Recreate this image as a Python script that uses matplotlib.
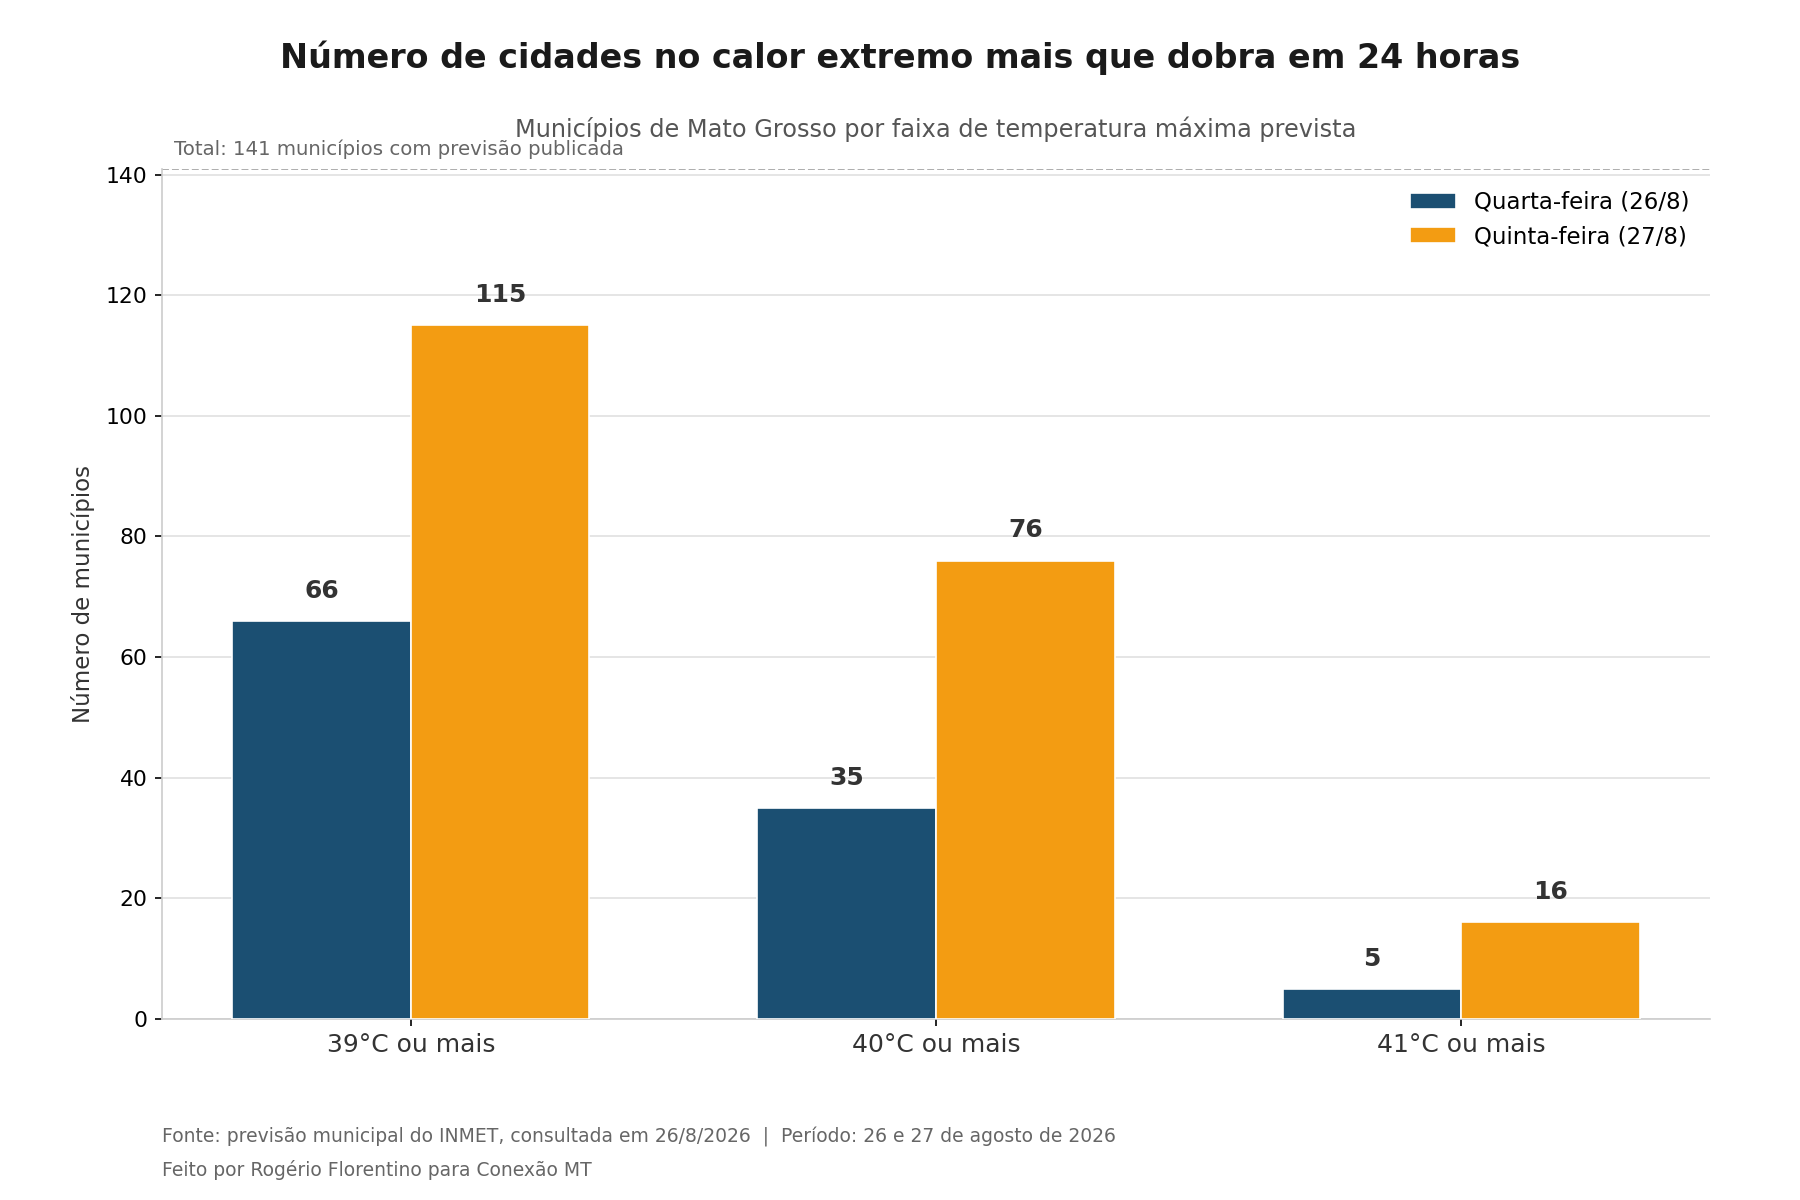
import matplotlib.pyplot as plt
import numpy as np

categories = ["39°C ou mais", "40°C ou mais", "41°C ou mais"]
quarta = [66, 35, 5]
quinta = [115, 76, 16]
series_labels = ["Quarta-feira (26/8)", "Quinta-feira (27/8)"]
total_municipios = 141

NAVY = "#1B4F72"
ORANGE = "#F39C12"

fig = plt.figure(figsize=(12, 8), dpi=150)
ax = fig.add_axes([0.090, 0.151, 0.860, 0.7085])

x = np.arange(len(categories))
width = 0.34
b1 = ax.bar(x - width / 2, quarta, width, color=NAVY, edgecolor="white",
            linewidth=0.8, label=series_labels[0], zorder=3)
b2 = ax.bar(x + width / 2, quinta, width, color=ORANGE, edgecolor="white",
            linewidth=0.8, label=series_labels[1], zorder=3)

for bars in (b1, b2):
    for rect in bars:
        h = rect.get_height()
        ax.text(rect.get_x() + rect.get_width() / 2, h + 3, f"{int(h)}",
                ha="center", va="bottom", fontsize=12, fontweight="bold",
                color="#333333")

ax.set_ylim(0, total_municipios)
ax.axhline(total_municipios, color="#aaaaaa", linestyle="--", linewidth=0.9, zorder=2)
ax.text(0.008, total_municipios + 1.6, f"Total: {total_municipios} municípios com previsão publicada",
        transform=ax.get_yaxis_transform(), ha="left", va="bottom",
        fontsize=9.5, color="#666666")

ax.set_xticks(x)
ax.set_xticklabels(categories, fontsize=12, color="#333333")
ax.set_yticks(np.arange(0, 141, 20))
ax.tick_params(axis="y", labelsize=10.5)
ax.set_ylabel("Número de municípios", fontsize=11, color="#333333", labelpad=5)

ax.grid(axis="y", color="#e0e0e0", linewidth=0.8, zorder=0)
ax.set_axisbelow(True)
for s in ("top", "right"):
    ax.spines[s].set_visible(False)
for s in ("left", "bottom"):
    ax.spines[s].set_color("#cccccc")

ax.legend(loc="upper right", frameon=False, fontsize=11,
          bbox_to_anchor=(1.0, 0.998))

fig.text(0.500, 0.952, "Número de cidades no calor extremo mais que dobra em 24 horas",
         ha="center", va="center", fontsize=16, fontweight="bold", color="#1a1a1a")
fig.text(0.520, 0.892, "Municípios de Mato Grosso por faixa de temperatura máxima prevista",
         ha="center", va="center", fontsize=11.5, color="#555555")
fig.text(0.090, 0.0526,
         "Fonte: previsão municipal do INMET, consultada em 26/8/2026  |  Período: 26 e 27 de agosto de 2026",
         ha="left", va="center", fontsize=9, color="#666666")
fig.text(0.090, 0.025, "Feito por Rogério Florentino para Conexão MT",
         ha="left", va="center", fontsize=9, color="#666666")

fig.savefig("out.png", dpi=150)
